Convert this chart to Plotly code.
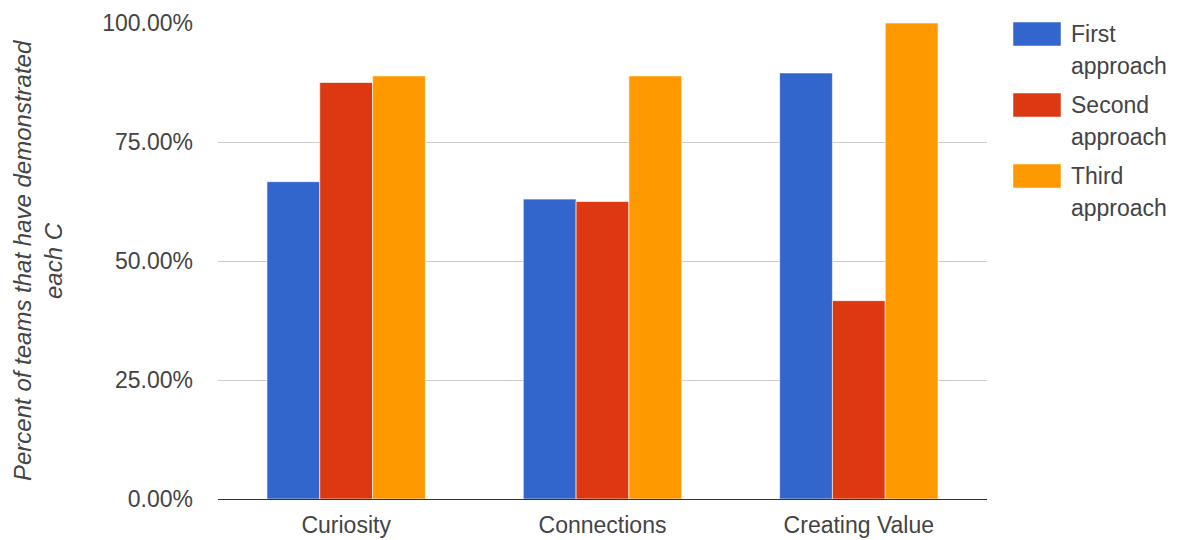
import plotly.graph_objects as go

# Data
categories = ["Curiosity", "Connections", "Creating Value"]
series_names = ["First approach", "Second approach", "Third approach"]
first_approach = [66.67, 63.0, 89.5]
second_approach = [87.5, 62.5, 41.67]
third_approach = [88.89, 88.89, 100.0]
series_values = [first_approach, second_approach, third_approach]
series_colors = ["#3366cc", "#dc3912", "#ff9900"]
y_ticks = [0, 25, 50, 75, 100]
y_tick_labels = ["%.2f%%" % v for v in y_ticks]

FONT = "Arial, Liberation Sans, sans-serif"
TEXT_COLOR = "#444444"
FS = 23

W, H = 1177, 540
L, R, T, B = 218, 190, 23, 41
plot_w = W - L - R
plot_h = H - T - B

fig = go.Figure()
for name, vals, col in zip(series_names, series_values, series_colors):
    fig.add_trace(go.Bar(
        x=categories, y=vals, name=name,
        marker=dict(color=col, line=dict(color="rgba(255,255,255,0.6)", width=1)),
        showlegend=False,
    ))

def px_x(px):
    return (px - L) / plot_w

def px_y(py):
    return 1 - (py - T) / plot_h

# Legend drawn as swatches plus two-line labels
shapes = []
annotations = []
for i, (name, col) in enumerate(zip(series_names, series_colors)):
    top = 22 + i * 71
    shapes.append(dict(
        type="rect", xref="paper", yref="paper",
        x0=px_x(1013), x1=px_x(1061), y0=px_y(top + 24), y1=px_y(top),
        fillcolor=col, line=dict(color="rgba(255,255,255,0.5)", width=1),
    ))
    for j, word in enumerate(name.split(" ")):
        annotations.append(dict(
            text=word, xref="paper", yref="paper",
            x=px_x(1069), y=px_y(top + 12 + j * 32),
            xanchor="left", yanchor="middle", showarrow=False,
            font=dict(family=FONT, size=FS, color=TEXT_COLOR),
        ))

# Two-line rotated y-axis title
title_lines = ["Percent of teams that have demonstrated", "each C"]
for k, line in enumerate(title_lines):
    annotations.append(dict(
        text="<i>%s</i>" % line, xref="paper", yref="paper",
        x=px_x(22 + k * 31), y=0.5, textangle=-90,
        xanchor="center", yanchor="middle", showarrow=False,
        font=dict(family=FONT, size=24, color=TEXT_COLOR),
    ))

fig.update_layout(
    width=W, height=H,
    margin=dict(l=L, r=R, t=T, b=B, autoexpand=False),
    paper_bgcolor="white", plot_bgcolor="white",
    barmode="group", bargap=0.382, bargroupgap=0.0,
    font=dict(family=FONT, size=FS, color=TEXT_COLOR),
    shapes=shapes, annotations=annotations,
    xaxis=dict(
        showgrid=False, showline=True, linecolor="#333333", linewidth=1,
        ticks="", ticklabelstandoff=5, automargin=False,
        tickfont=dict(family=FONT, size=FS, color=TEXT_COLOR),
    ),
    yaxis=dict(
        range=[0, 100], tickvals=y_ticks, ticktext=y_tick_labels,
        showgrid=True, gridcolor="#cccccc", gridwidth=1,
        zeroline=False, showline=False, ticks="", ticklabelstandoff=24,
        automargin=False,
        tickfont=dict(family=FONT, size=FS, color=TEXT_COLOR),
    ),
)

fig.write_html("out.html")
